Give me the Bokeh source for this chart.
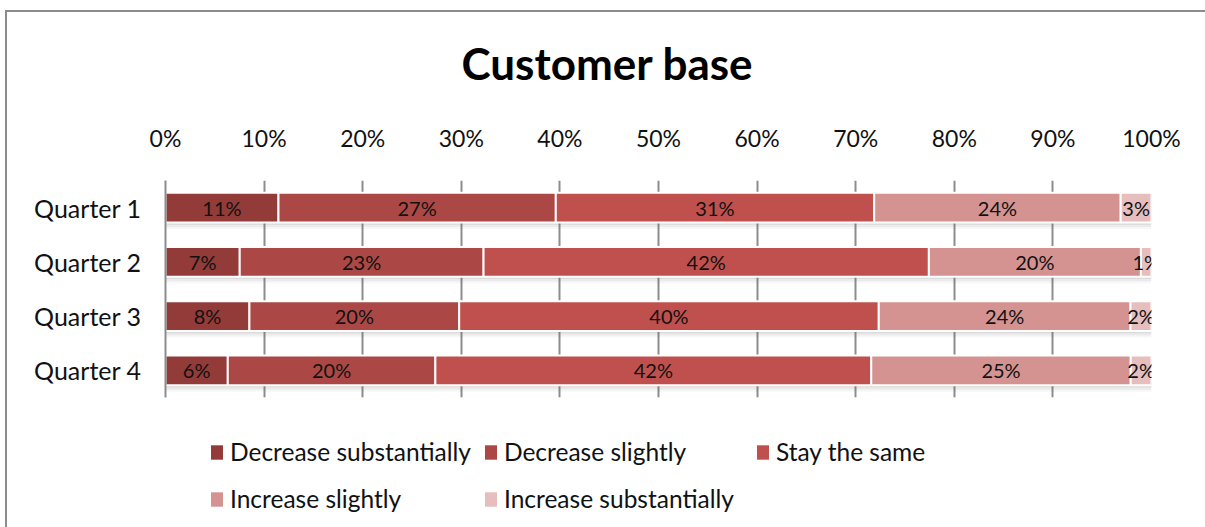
from bokeh.plotting import figure
from bokeh.layouts import column
from bokeh.models import (ColumnDataSource, FactorRange, Range1d, NumeralTickFormatter,
                          FixedTicker, Legend, LegendItem, Label)
from bokeh.transform import dodge
from bokeh.embed import file_html
from bokeh.resources import INLINE
from bokeh.core.properties import value

categories = ["Quarter 1", "Quarter 2", "Quarter 3", "Quarter 4"]
series_names = ["Decrease substantially", "Decrease slightly", "Stay the same",
                "Increase slightly", "Increase substantially"]
decrease_substantially = [11, 7, 8, 6]
decrease_slightly = [27, 23, 20, 20]
stay_the_same = [31, 42, 40, 42]
increase_slightly = [24, 20, 24, 25]
increase_substantially = [3, 1, 2, 2]
tick_values = [0, 0.1, 0.2, 0.3, 0.4, 0.5, 0.6, 0.7, 0.8, 0.9, 1.0]
chart_title = "Customer base"

colors = ["#933b39", "#ab4846", "#c0504d", "#d49290", "#e5bebd"]
series = [decrease_substantially, decrease_slightly, stay_the_same,
          increase_slightly, increase_substantially]
keys = ["s0", "s1", "s2", "s3", "s4"]

totals = [sum(v[i] for v in series) for i in range(len(categories))]
data = {"cat": categories}
for k, v in zip(keys, series):
    data[k] = [v[i] / totals[i] for i in range(len(categories))]
data["total"] = [sum(data[k][i] for k in keys) for i in range(len(categories))]
source = ColumnDataSource(data)

FONT = "Lato"
W = 1198

def strip(h):
    f = figure(width=W, height=h, x_range=Range1d(0, 1), y_range=FactorRange("strip"),
               x_axis_location=None, y_axis_location=None,
               output_backend="svg", toolbar_location=None,
               min_border_left=0, min_border_right=0, min_border_top=0, min_border_bottom=0)
    f.outline_line_color = None
    f.grid.grid_line_color = None
    f.border_fill_color = "white"
    f.background_fill_color = "white"
    return f

# ---- title strip
pt = strip(92)
pt.add_layout(Label(x=442, y=42, x_units="screen", y_units="screen", text=chart_title,
                    text_align="center", text_baseline="middle", text_font=FONT,
                    text_font_size="44px", text_font_style="bold", text_color="#000000"))

# ---- main chart
p = figure(width=W, height=313, y_range=FactorRange(*reversed(categories)),
           x_range=Range1d(0, 1), x_axis_location="above",
           output_backend="svg", toolbar_location=None,
           min_border_left=158, min_border_right=54, min_border_top=76,
           min_border_bottom=20)
p.outline_line_color = None
p.background_fill_color = "white"
p.border_fill_color = "white"

# soft shadow under each bar
for off, a in [(-0.12, 0.05), (-0.08, 0.08), (-0.04, 0.12)]:
    p.hbar(y=dodge("cat", off, range=p.y_range), right="total", height=0.55,
           source=source, fill_color="#606060", fill_alpha=a, line_color=None)

renderers = p.hbar_stack(keys, y="cat", height=0.55, color=colors, source=source,
                         line_color="white", line_width=2)

# segment labels
lx, ly, lt = [], [], []
for i, c in enumerate(categories):
    left = 0.0
    for v in series:
        frac = v[i] / totals[i]
        lx.append(left + frac / 2)
        ly.append(c)
        lt.append(f"{v[i]}%")
        left += frac
p.text(x=lx, y=ly, text=lt, text_align="center", text_baseline="middle",
       text_font=value(FONT), text_font_size="20px", text_color="#111111")

xa = p.xaxis[0]
xa.ticker = FixedTicker(ticks=tick_values)
xa.formatter = NumeralTickFormatter(format="0%")
xa.axis_line_color = None
xa.major_tick_line_color = None
xa.minor_tick_line_color = None
xa.major_label_text_font = FONT
xa.major_label_text_font_size = "23px"
xa.major_label_text_color = "#111111"
xa.major_label_standoff = 23

ya = p.yaxis[0]
ya.axis_line_color = "#8c8c8c"
ya.axis_line_width = 2
ya.major_tick_line_color = None
ya.minor_tick_line_color = None
ya.major_label_text_font = FONT
ya.major_label_text_font_size = "25px"
ya.major_label_text_color = "#111111"
ya.major_label_standoff = 18

p.xgrid.ticker = FixedTicker(ticks=tick_values)
p.xgrid.grid_line_color = "#8c8c8c"
p.xgrid.grid_line_width = 2
p.ygrid.grid_line_color = None

# ---- legend strip (proxy bars fall outside its range)
pl = strip(110)
proxies = pl.hbar_stack(keys, y="cat", height=0.5, color=colors, source=source,
                        line_color=None)
legend = Legend(items=[LegendItem(label=n, renderers=[r]) for n, r in zip(series_names, proxies)],
                orientation="horizontal", ncols=3, location=(44, 11),
                glyph_width=15, glyph_height=18, label_standoff=6,
                label_text_font=FONT, label_text_font_size="24.5px", label_text_color="#111111",
                label_height=35, label_width=239, spacing=12, padding=0, margin=0,
                border_line_color=None, background_fill_alpha=0)
pl.add_layout(legend, "center")

layout = column(pt, p, pl, spacing=0)
layout.margin = (10, 0, 0, 5)
layout.styles = {"border-left": "2px solid #8c8c8c", "border-top": "2px solid #8c8c8c"}

open("out.html", "w").write(file_html(layout, INLINE))
